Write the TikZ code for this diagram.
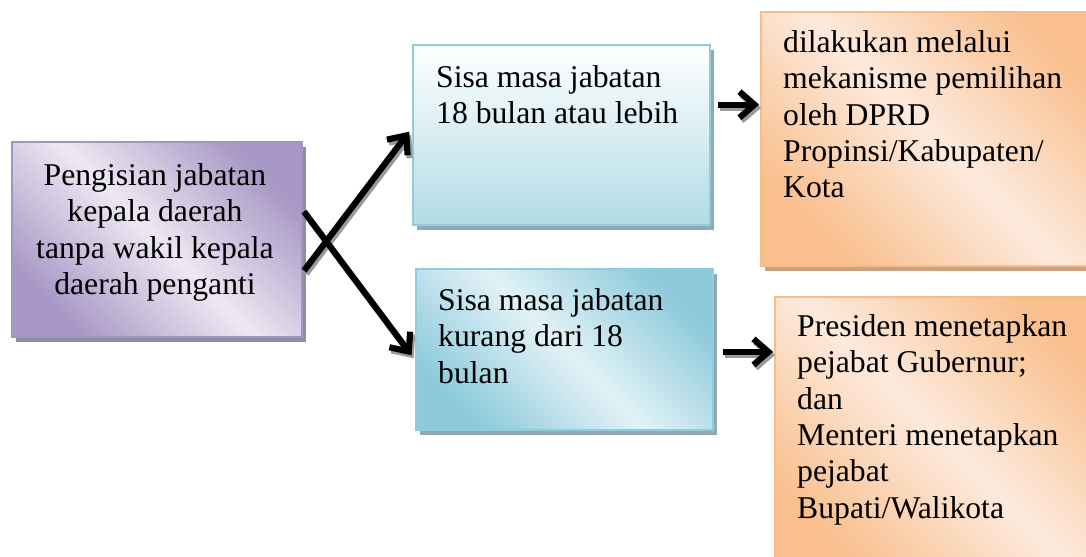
\documentclass[tikz,border=0pt]{standalone}
\usepackage{fontspec}
\setmainfont{Liberation Serif}
\usetikzlibrary{arrows.meta,calc,shadows}
\definecolor{pdark}{HTML}{A898C5}
\definecolor{plight}{HTML}{EDE8F3}
\definecolor{pborder}{HTML}{A494C0}
\definecolor{pshadow}{HTML}{938AA3}
\definecolor{bdark}{HTML}{8DCADB}
\definecolor{blight}{HTML}{E2F2F7}
\definecolor{bbottom}{HTML}{B2DBE6}
\definecolor{bborder}{HTML}{8ECEDC}
\definecolor{bshadow}{HTML}{93A9B1}
\definecolor{odark}{HTML}{F9BF8D}
\definecolor{olight}{HTML}{FDEADD}
\definecolor{oborder}{HTML}{F7BC87}
\definecolor{oshadow}{HTML}{C9A284}
\definecolor{ashadow}{HTML}{9A9A9A}
\begin{document}
\begin{tikzpicture}[x=1bp,y=-1bp,
  box/.style={rectangle, draw, line width=1.6bp, inner sep=0pt},
  shd/.style={drop shadow={shadow xshift=4bp, shadow yshift=-5bp, fill=#1, opacity=1}},
  diag/.style 2 args={shading=axis, left color=#1, right color=#1, middle color=#2, shading angle=135},
  txt/.style={font=\fontsize{31.8}{36.6}\selectfont, inner sep=0pt, text=black},
  arr/.style={line width=6.2bp, draw=#1,
    -{Straight Barb[length=15bp,width=26bp]}}]
\clip (0,0) rectangle (1086,557);
\fill[white] (0,0) rectangle (1086,557);

% boxes
\node[box, draw=pborder, shd=pshadow, diag={pdark}{plight},
  minimum width=290bp, minimum height=195bp] (pengisian) at (157,239.5) {};
\node[box, draw=bborder, shd=bshadow, top color=white, bottom color=bbottom,
  minimum width=297bp, minimum height=180bp] (lebih) at (561.5,135) {};
\node[box, draw=bborder, shd=bshadow, diag={bdark}{blight},
  minimum width=297bp, minimum height=161bp] (kurang) at (564.5,349.5) {};
\node[box, draw=oborder, shd=oshadow, diag={odark}{olight},
  minimum width=349bp, minimum height=254bp] (dprd) at (935.5,139) {};
\node[box, draw=oborder, shd=oshadow, diag={odark}{olight},
  minimum width=335bp, minimum height=283bp] (presiden) at (942.5,438.5) {};

% texts (north = first baseline - strut height 25.6)
\node[txt, align=center, anchor=north] (t1) at (155,159.4)
  {\strut Pengisian jabatan\\kepala daerah\\tanpa wakil kepala\\daerah penganti};
\node[txt, align=left, anchor=north west] (t2) at (436,61.4)
  {\strut Sisa masa jabatan\\18 bulan atau lebih};
\node[txt, align=left, anchor=north west] (t3) at (438,284.4)
  {\strut Sisa masa jabatan\\kurang dari 18\\bulan};
\node[txt, align=left, anchor=north west] (t4) at (783,26.4)
  {\strut dilakukan melalui\\mekanisme pemilihan\\oleh DPRD\\Propinsi/Kabupaten/\\Kota};
\node[txt, align=left, anchor=north west] (t5) at (797,310.4)
  {\strut Presiden menetapkan\\pejabat Gubernur;\\dan\\Menteri menetapkan\\pejabat\\Bupati/Walikota};

% connectors (shadow pass, then black pass)
\foreach \dx/\dy/\cc in {2/3/ashadow, 0/0/black} {
\begin{scope}[transform canvas={xshift=\dx bp, yshift=-\dy bp}]
\draw[arr=\cc, shorten <=2bp, shorten >=5bp]
  ($(pengisian.north east)!0.667!(pengisian.south east)$) --
  ($(lebih.north west)!0.46!(lebih.south west)$);
\draw[arr=\cc, shorten <=2bp, shorten >=6bp]
  ($(pengisian.north east)!0.35!(pengisian.south east)$) --
  ($(kurang.north west)!0.565!(kurang.south west)$);
\draw[arr=\cc, shorten >=1bp] ($(lebih.north east)!0.333!(lebih.south east)$) ++(7,0) coordinate (a1)
  -- (a1 -| dprd.west);
\draw[arr=\cc, shorten >=1bp] ($(kurang.north east)!0.515!(kurang.south east)$) ++(9,0) coordinate (a2)
  -- (a2 -| presiden.west);
\end{scope}}
\end{tikzpicture}
\end{document}
